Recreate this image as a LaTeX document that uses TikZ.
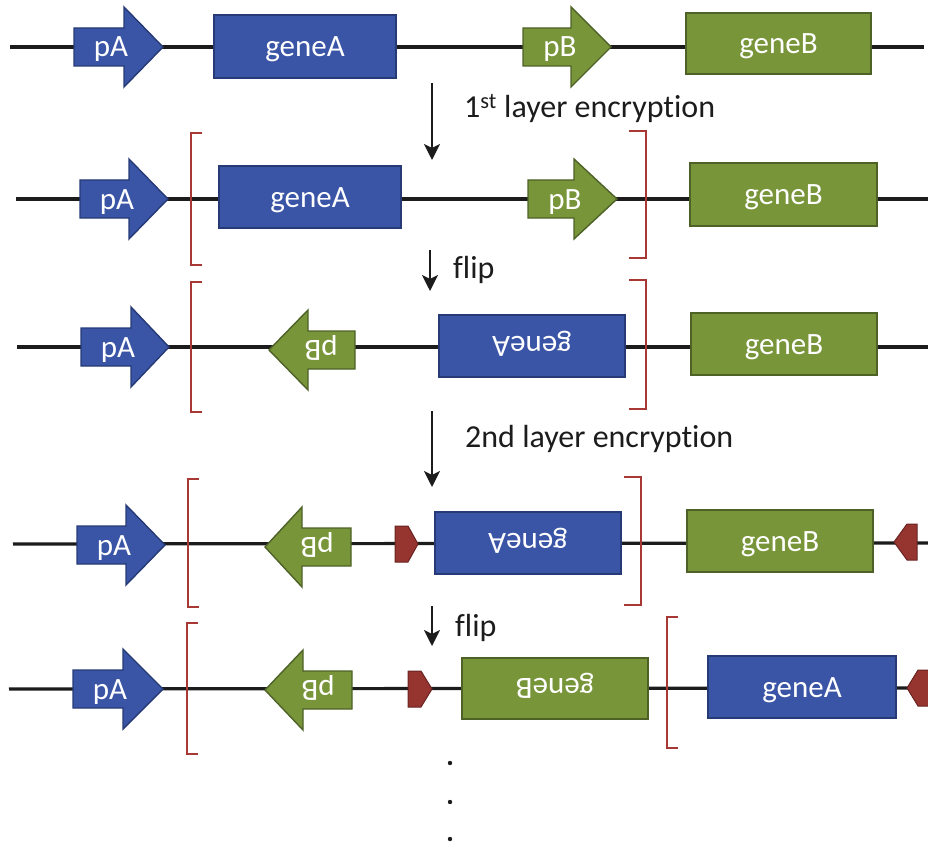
\documentclass[tikz,border=0pt]{standalone}
\usepackage{fontspec}
\setmainfont{Carlito}[Ligatures={NoCommon}]
\usetikzlibrary{arrows.meta}
\definecolor{gblue}{RGB}{58,84,166}
\definecolor{gblueD}{RGB}{38,58,118}
\definecolor{ggreen}{RGB}{120,149,58}
\definecolor{ggreenD}{RGB}{78,98,40}
\definecolor{tagred}{RGB}{150,52,48}
\definecolor{tagredD}{RGB}{105,36,33}
\definecolor{brk}{RGB}{168,56,52}
\definecolor{ink}{RGB}{28,28,28}
\tikzset{
  x=1pt, y=-1pt,
  blueshape/.style={fill=gblue, draw=gblueD, line width=1.4pt},
  greenshape/.style={fill=ggreen, draw=ggreenD, line width=1.4pt},
  tagshape/.style={fill=tagred, draw=tagredD, line width=1pt},
  backbone/.style={ink, line width=3.2pt},
  bracket/.style={brk, line width=2pt},
  lbl/.style={text=white, font=\fontsize{31}{33}\selectfont, inner sep=0pt, text height=20pt, text depth=0pt},
  steptext/.style={text=ink, font=\fontsize{32}{34}\selectfont, inner sep=0pt},
  downarrow/.style={ink, line width=2.4pt, -{Stealth[length=16pt,width=16pt,inset=4pt]}},
}
% right-pointing promoter: name, x0, xh, xt, y, style, text
\newcommand\promR[7]{%
  \filldraw[#6] ({#2},{#5-19}) -- ({#3},{#5-19}) -- ({#3},{#5-40}) -- ({#4},{#5}) -- ({#3},{#5+40}) -- ({#3},{#5+19}) -- ({#2},{#5+19}) -- cycle;
  \node[lbl] (#1) at ({#2+37},{#5}) {#7};
}
% left-pointing (flipped) promoter: name, xtip, xh, x1, y, style, text
\newcommand\promL[7]{%
  \filldraw[#6] ({#4},{#5-19}) -- ({#3},{#5-19}) -- ({#3},{#5-40}) -- ({#2},{#5}) -- ({#3},{#5+40}) -- ({#3},{#5+19}) -- ({#4},{#5+19}) -- cycle;
  \node[lbl, rotate=180] (#1) at ({#4-34},{#5}) {#7};
}
% gene box: name, x1, x2, ytop, ybot, style, rotation, text
\newcommand\genebox[8]{%
  \node[#6, lbl, minimum width={#3-#2}, minimum height={#5-#4}, rotate=#7] (#1) at ({(#2+#3)/2},{(#4+#5)/2}) {#8};
}
% red tags: x0 xf xt y (pointing right) / xt xf x0 y (pointing left)
\newcommand\tagR[4]{%
  \filldraw[tagshape] ({#1},{#4-18}) -- ({#2},{#4-18}) -- ({#3},{#4}) -- ({#2},{#4+18}) -- ({#1},{#4+18}) -- cycle;
}
\newcommand\tagL[4]{%
  \filldraw[tagshape] ({#3},{#4-18}) -- ({#2},{#4-18}) -- ({#1},{#4}) -- ({#2},{#4+18}) -- ({#3},{#4+18}) -- cycle;
}
% brackets: x, ytop, ybot
\newcommand\bracketL[3]{\draw[bracket] ({#1+11},{#2}) -- ({#1},{#2}) -- ({#1},{#3}) -- ({#1+11},{#3});}
\newcommand\bracketR[3]{\draw[bracket] ({#1-17},{#2}) -- ({#1},{#2}) -- ({#1},{#3}) -- ({#1-17},{#3});}

\begin{document}
\begin{tikzpicture}
\useasboundingbox (0,0) rectangle (928,845);

% ---------- backbones ----------
\coordinate (r1s) at (10,47);  \coordinate (r1e) at (924,47);
\coordinate (r2s) at (16,199); \coordinate (r2e) at (928,199);
\coordinate (r3s) at (17,347); \coordinate (r3e) at (928,347);
\coordinate (r4s) at (13,544); \coordinate (r4e) at (928,543);
\coordinate (r5s) at (9,689);  \coordinate (r5e) at (928,688);
\draw[backbone] (r1s) -- (r1e);
\draw[backbone] (r2s) -- (r2e);
\draw[backbone] (r3s) -- (r3e);
\draw[backbone] (r4s) -- (r4e);
\draw[backbone] (r5s) -- (r5e);

% ---------- row 1 ----------
\promR{pA1}{74}{124}{163}{47}{blueshape}{pA}
\genebox{gA1}{214}{396}{15}{78}{blueshape}{0}{geneA}
\promR{pB1}{523}{571}{611}{47}{greenshape}{pB}
\genebox{gB1}{686}{871}{13}{74}{greenshape}{0}{geneB}

% ---------- row 2 ----------
\promR{pA2}{80}{129}{168}{199}{blueshape}{pA}
\bracketL{191}{133}{265}
\genebox{gA2}{219}{401}{166}{228}{blueshape}{0}{geneA}
\promR{pB2}{528}{574}{617}{199}{greenshape}{pB}
\bracketR{646}{131}{258}
\genebox{gB2}{690}{877}{163}{226}{greenshape}{0}{geneB}

% ---------- row 3 ----------
\promR{pA3}{81}{131}{169}{347}{blueshape}{pA}
\bracketL{191}{282}{412}
\promL{pB3}{269}{308}{355}{350}{greenshape}{pB}
\genebox{gA3}{439}{625}{315}{377}{blueshape}{180}{geneA}
\bracketR{646}{280}{409}
\genebox{gB3}{691}{877}{313}{375}{greenshape}{0}{geneB}

% ---------- row 4 ----------
\promR{pA4}{77}{126}{165}{545}{blueshape}{pA}
\bracketL{188}{479}{607}
\promL{pB4}{265}{302}{351}{547}{greenshape}{pB}
\tagR{395}{408}{418}{544}
\genebox{gA4}{435}{621}{512}{574}{blueshape}{180}{geneA}
\bracketR{641}{477}{605}
\genebox{gB4}{687}{873}{510}{572}{greenshape}{0}{geneB}
\tagL{894}{907}{917}{542}

% ---------- row 5 ----------
\promR{pA5}{73}{123}{163}{689}{blueshape}{pA}
\bracketL{187}{623}{754}
\promL{pB5}{265}{303}{352}{690}{greenshape}{pB}
\tagR{408}{421}{432}{689}
\genebox{gB5}{462}{648}{658}{719}{greenshape}{180}{geneB}
\bracketL{667}{617}{748}
\genebox{gA5}{708}{896}{656}{718}{blueshape}{0}{geneA}
\tagL{907}{918}{932}{688}

% ---------- step arrows and labels ----------
\coordinate (a1s) at (432,83);  \coordinate (a1e) at (432,160);
\draw[downarrow] (a1s) -- (a1e);
\node[steptext, anchor=base west] (t1) at (464,118) {1\textsuperscript{st} layer encryption};

\coordinate (a2s) at (430,250); \coordinate (a2e) at (430,291);
\draw[downarrow] (a2s) -- (a2e);
\node[steptext, anchor=base west] (t2) at (453,278) {flip};

\coordinate (a3s) at (432,411); \coordinate (a3e) at (432,487);
\draw[downarrow] (a3s) -- (a3e);
\node[steptext, anchor=base west] (t3) at (465,447) {2nd layer encryption};

\coordinate (a4s) at (432,606); \coordinate (a4e) at (432,646);
\draw[downarrow] (a4s) -- (a4e);
\node[steptext, anchor=base west] (t4) at (455,636) {flip};

% ---------- continuation dots ----------
\fill[ink] (450,763) circle (2.2);
\fill[ink] (450,802) circle (2.2);
\fill[ink] (450,839) circle (2.2);
\end{tikzpicture}
\end{document}
